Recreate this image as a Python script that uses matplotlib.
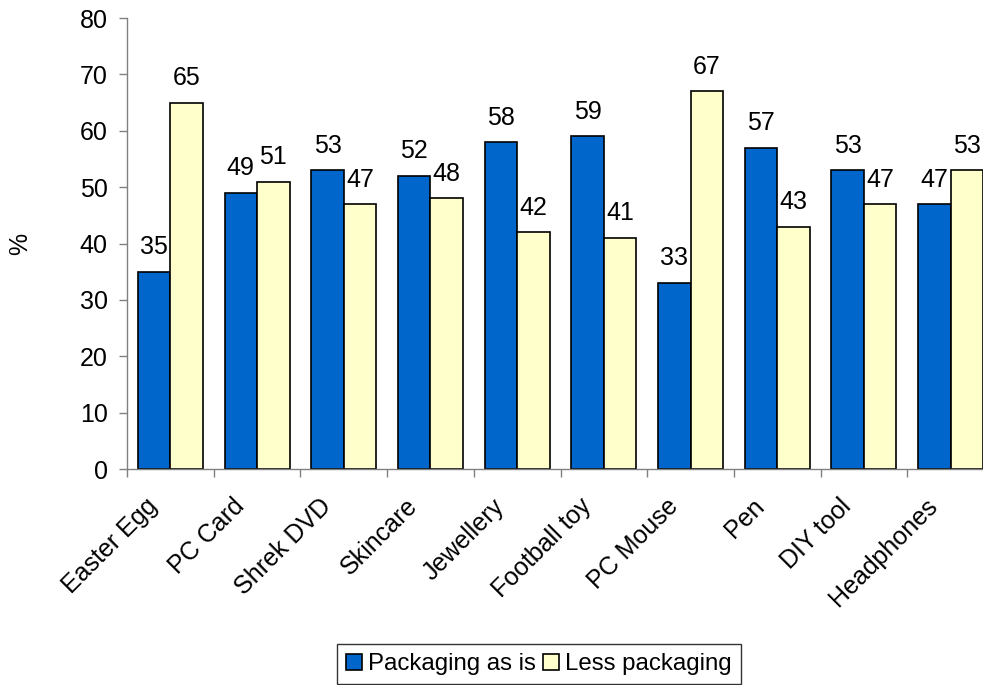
import numpy as np
import matplotlib
matplotlib.use("Agg")
import matplotlib.pyplot as plt
from matplotlib.transforms import ScaledTranslation

plt.rcParams["font.family"] = ["Liberation Sans", "DejaVu Sans"]

categories = ["Easter Egg", "PC Card", "Shrek DVD", "Skincare", "Jewellery",
              "Football toy", "PC Mouse", "Pen", "DIY tool", "Headphones"]
as_is = [35, 49, 53, 52, 58, 59, 33, 57, 53, 47]
less = [65, 51, 47, 48, 42, 41, 67, 43, 47, 53]

fontsize = 18
width = 0.375
x = np.arange(len(categories))

fig = plt.figure(figsize=(9.83, 6.85), dpi=100)
ax = fig.add_axes([0.1292, 0.3153, 0.8820, 0.6584])

b1 = ax.bar(x - width / 2, as_is, width, color="#0066CC", edgecolor="black",
            linewidth=1.2, label="Packaging as is")
b2 = ax.bar(x + width / 2, less, width, color="#FFFFCC", edgecolor="black",
            linewidth=1.2, label="Less packaging")

for bars in (b1, b2):
    for rect in bars:
        h = rect.get_height()
        ax.annotate(f"{h:g}", (rect.get_x() + rect.get_width() / 2, h),
                    xytext=(0, 9), textcoords="offset points",
                    ha="center", va="bottom", fontsize=fontsize)

ax.set_xlim(-0.5, len(categories) - 0.5)
ax.set_ylim(0, 80)
ax.set_yticks(np.arange(0, 81, 10))

# boundary ticks between groups, labels at group centres
ax.set_xticks(np.arange(-0.5, len(categories), 1.0))
ax.set_xticklabels([])
ax.set_xticks(x, minor=True)
ax.set_xticklabels(categories, minor=True, rotation=45, ha="right",
                   rotation_mode="anchor", fontsize=fontsize)
ax.tick_params(axis="x", which="minor", length=0, pad=12)
ax.tick_params(axis="x", which="major", length=6, width=1, color="#808080",
               direction="out")
ax.tick_params(axis="y", length=6, width=1, color="#808080", direction="out",
               labelsize=fontsize, pad=8)

shift = ScaledTranslation(-18 / 72, -6 / 72, fig.dpi_scale_trans)
for lbl in ax.get_xticklabels(minor=True):
    lbl.set_transform(lbl.get_transform() + shift)

for side in ("top", "right"):
    ax.spines[side].set_visible(False)
for side in ("left", "bottom"):
    ax.spines[side].set_color("#808080")
    ax.spines[side].set_linewidth(1)

ax.set_ylabel("%", fontsize=fontsize, labelpad=34)

leg = fig.legend(handles=[b1, b2], loc="upper left",
                 bbox_to_anchor=(337 / 983, 1 - 644 / 685), ncol=2,
                 fontsize=17.3, frameon=True, fancybox=False, shadow=False,
                 handlelength=0.65, handleheight=0.65, handletextpad=0.26,
                 columnspacing=0.3, borderpad=0.38, borderaxespad=0)
leg.get_frame().set_edgecolor("black")
leg.get_frame().set_linewidth(1)

fig.savefig("out.png", dpi=100)
